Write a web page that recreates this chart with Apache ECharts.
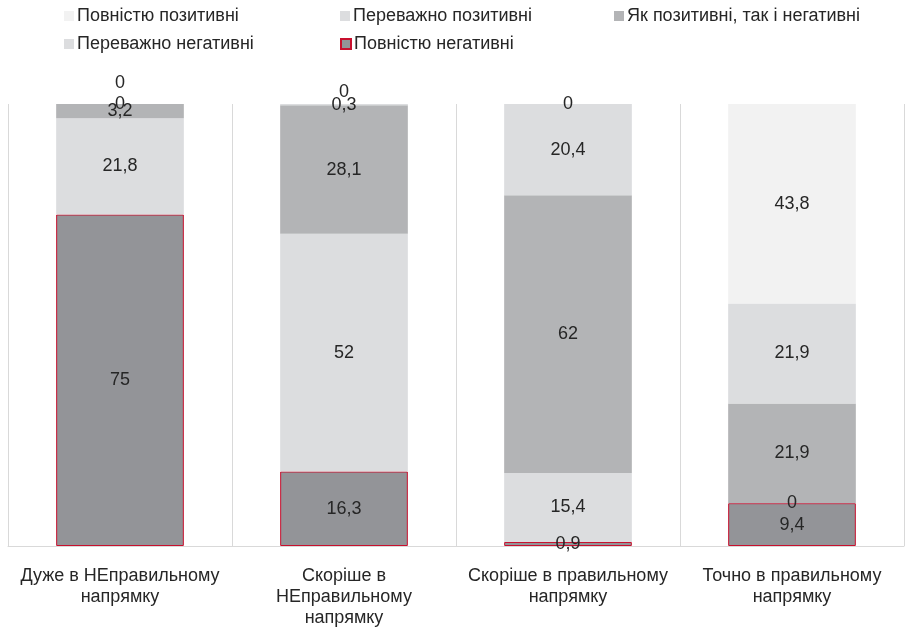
<!DOCTYPE html>
<html>
<head>
<meta charset="utf-8">
<script src="https://cdn.jsdelivr.net/npm/echarts@6/dist/echarts.min.js"></script>
<style>
  html, body { margin: 0; padding: 0; background: #fff; }
  #chart { width: 906px; height: 632px; }
</style>
</head>
<body>
<div id="chart"></div>
<script>
const categories = [
  'Дуже в НЕправильному\nнапрямку',
  'Скоріше в\nНЕправильному\nнапрямку',
  'Скоріше в правильному\nнапрямку',
  'Точно в правильному\nнапрямку'
]
const seriesNames = [
  'Повністю позитивні',
  'Переважно позитивні',
  'Як позитивні, так і негативні',
  'Переважно негативні',
  'Повністю негативні'
]
// values per series, one per category
const fullyPositive = [0, 0, 0, 43.8]
const mostlyPositive = [0, 0.3, 20.4, 21.9]
const mixed = [3.2, 28.1, 62, 21.9]
const mostlyNegative = [21.8, 52, 15.4, 0]
const fullyNegative = [75, 16.3, 0.9, 9.4]

const values = [fullyPositive, mostlyPositive, mixed, mostlyNegative, fullyNegative]
const colors = ['#f2f2f2', '#dcdddf', '#b3b4b6', '#dcdddf', '#939498']
const font = 'Liberation Sans, Arial, sans-serif'

// totals per category, bars are drawn as 100% stacked
const totals = categories.map((c, i) => values.reduce((s, arr) => s + arr[i], 0))

// manual label nudges for the zero labels crowded at the top
const labelNudge = { 0: [-21, -12, 0, 0] }

const chart = echarts.init(document.getElementById('chart'))

// bottom segment first
const order = [4, 3, 2, 1, 0]
const series = order.map(k => ({
  name: seriesNames[k],
  type: 'bar',
  stack: 'total',
  barWidth: '57%',
  itemStyle: k === 4
    ? { color: colors[k], borderColor: '#c8102e', borderWidth: 1 }
    : { color: colors[k] },
  label: {
    show: true,
    position: 'inside',
    color: '#262626',
    fontSize: 18,
    fontFamily: font,
    textBorderWidth: 0,
    formatter: p => String(values[k][p.dataIndex]).replace('.', ',')
  },
  data: values[k].map((v, i) => {
    const item = { value: v / totals[i] * 100 }
    if (labelNudge[k] && labelNudge[k][i]) {
      item.label = { offset: [0, labelNudge[k][i]] }
    }
    return item
  })
}))

const legendPos = [
  { left: 64, top: 7 },
  { left: 340, top: 7 },
  { left: 614, top: 7 },
  { left: 64, top: 35 },
  { left: 340, top: 35 }
]

chart.setOption({
  animation: false,
  legend: seriesNames.map((n, i) => ({
    data: [n],
    left: legendPos[i].left,
    top: legendPos[i].top,
    padding: 0,
    itemWidth: 10,
    itemHeight: 10,
    itemGap: 4,
    icon: 'rect',
    textStyle: { color: '#262626', fontSize: 18, fontFamily: font, padding: [0, 0, 0, -2] }
  })),
  grid: {
    left: 8,
    right: 2,
    top: 104,
    bottom: 86
  },
  xAxis: {
    type: 'category',
    data: categories,
    axisLine: { lineStyle: { color: '#d9d9d9' } },
    axisTick: { show: false },
    splitLine: { show: true, lineStyle: { color: '#d9d9d9' } },
    axisLabel: {
      color: '#262626',
      fontSize: 18,
      lineHeight: 21,
      margin: 20,
      fontFamily: font,
      interval: 0
    }
  },
  yAxis: {
    type: 'value',
    min: 0,
    max: 100,
    show: false
  },
  series: series
})
</script>
</body>
</html>
